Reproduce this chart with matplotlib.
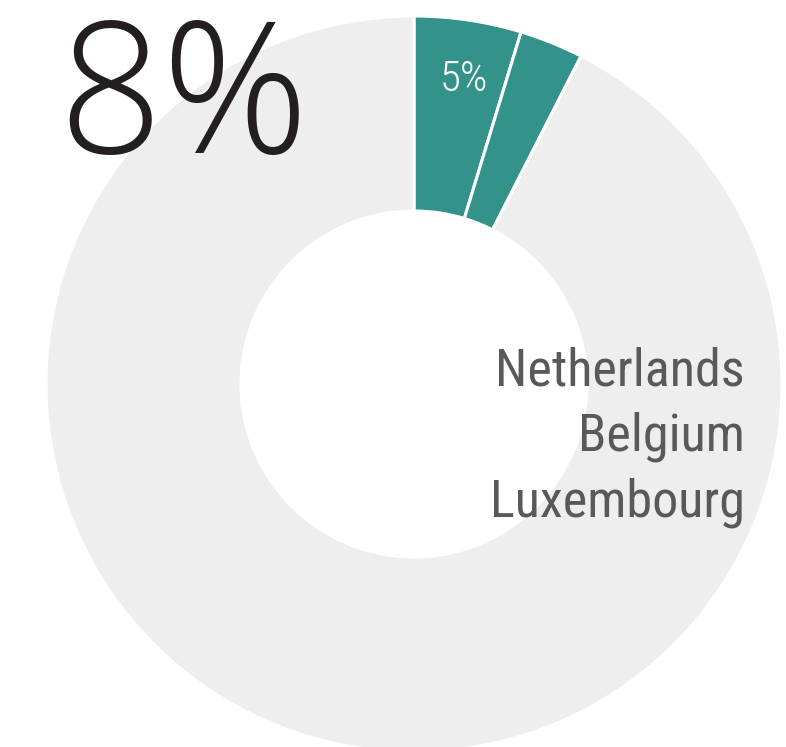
import matplotlib

matplotlib.use("Agg")
import matplotlib.pyplot as plt

# Datos del gráfico
segmentos = ["Netherlands", "Belgium + Luxembourg", "Resto"]
valores = [4.7, 2.8, 92.5]
colores = ["#33938a", "#33938a", "#eeeeee"]
etiqueta_segmento = "5%"
total_texto = "8%"
paises = ["Netherlands", "Belgium", "Luxembourg"]

W, H = 786, 747
fig = plt.figure(figsize=(W / 100, H / 100), dpi=100)
ax = fig.add_axes([0, 0, 1, 1])

R_ext, R_int = 368, 173
cx, cy = 414, H - 384

ax.pie(
    valores,
    colors=colores,
    startangle=90,
    counterclock=False,
    radius=R_ext,
    center=(cx, cy),
    wedgeprops=dict(width=R_ext - R_int, edgecolor="white", linewidth=2.2),
)

ax.set_xlim(0, W)
ax.set_ylim(0, H)
ax.set_aspect("equal")
ax.axis("off")

# Texto grande del total
ax.text(58, H - 153, total_texto, fontsize=131, family="Open Sans", weight=300,
        color="#231f20", ha="left", va="baseline")

# Etiqueta dentro del segmento
ax.text(464, H - 91, etiqueta_segmento, fontsize=31, family="Roboto Condensed",
        weight=300, color="white", ha="center", va="baseline")

# Nombres de países
for i, pais in enumerate(paises):
    ax.text(745, H - (386 + 65 * i), pais, fontsize=37.5, family="Roboto Condensed",
            color="#58595b", ha="right", va="baseline")

plt.savefig("out.png", dpi=100)
plt.close()
